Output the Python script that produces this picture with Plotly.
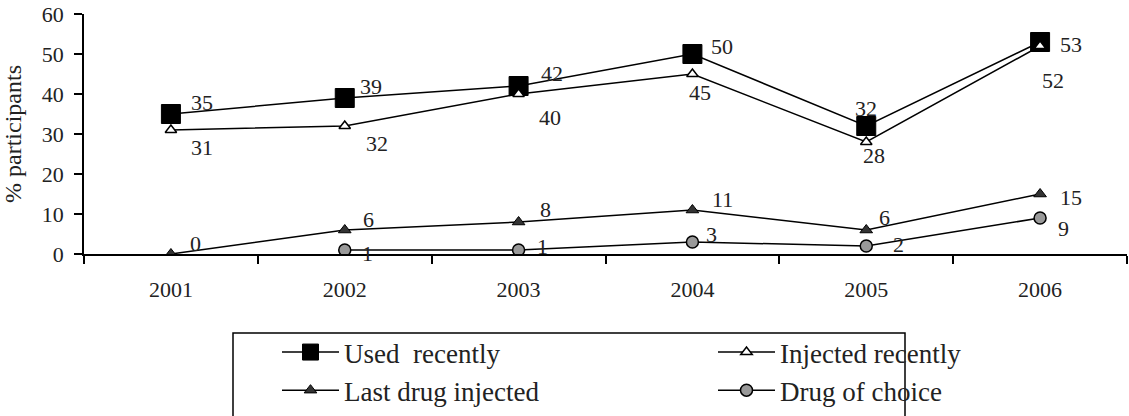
import plotly.graph_objects as go

# Survey years and percentages of participants
years = ["2001", "2002", "2003", "2004", "2005", "2006"]
used_recently = [35, 39, 42, 50, 32, 53]
injected_recently = [31, 32, 40, 45, 28, 52]
last_drug_injected = [0, 6, 8, 11, 6, 15]
drug_of_choice = [None, 1, 1, 3, 2, 9]
y_ticks = [0, 10, 20, 30, 40, 50, 60]

# Pixel offsets (right, down) for each value label
used_off = [(31, -12), (26, -12), (33, -13), (30, -8), (0, -18), (31, 2)]
inj_off = [(31, 17), (32, 17), (31, 23), (8, 18), (8, 13), (13, 34)]
last_off = [(25, -11), (24, -11), (27, -13), (30, -11), (18, -13), (31, 3)]
choice_off = [(0, 0), (23, 3), (24, -4), (19, -8), (32, -2), (23, 10)]

FONT = "Liberation Serif"
TXT = "#222222"
W, H = 1129, 416
ML, MR, MT, MB = 84, 2, 14, 162

series = [
    ("Used  recently", used_recently, used_off,
     dict(symbol="square", size=19, color="black", line=dict(color="black", width=1))),
    ("Injected recently", injected_recently, inj_off,
     dict(symbol="triangle-up", size=10, color="white", line=dict(color="black", width=1.5))),
    ("Last drug injected", last_drug_injected, last_off,
     dict(symbol="triangle-up", size=11, color="#333333", line=dict(color="black", width=1))),
    ("Drug of choice", drug_of_choice, choice_off,
     dict(symbol="circle", size=12, color="#999999", line=dict(color="black", width=1.5))),
]

fig = go.Figure()
for name, vals, offs, marker in series:
    fig.add_trace(go.Scatter(
        x=years, y=vals, name=name, mode="lines+markers",
        line=dict(color="black", width=1.5), marker=marker,
    ))
    # value labels placed at each point, nudged by a few pixels
    for i, (v, (dx, dy)) in enumerate(zip(vals, offs)):
        if v is None:
            continue
        fig.add_annotation(
            x=i, y=v, xref="x", yref="y", text=str(v), showarrow=False,
            xanchor="center", yanchor="middle",
            xshift=dx, yshift=-dy,
            font=dict(family=FONT, size=22, color=TXT),
        )

plot_w = W - ML - MR
plot_h = H - MT - MB


def px_x(p):
    return (p - ML) / plot_w


def px_y(p):
    return (H - MB - p) / plot_h


# Frame around the legend
fig.add_shape(
    type="rect", xref="paper", yref="paper",
    x0=px_x(233), x1=px_x(905), y0=px_y(333), y1=px_y(440),
    line=dict(color="black", width=1.5), fillcolor="rgba(0,0,0,0)",
)

fig.update_layout(
    width=W, height=H,
    margin=dict(l=ML, r=MR, t=MT, b=MB, autoexpand=False),
    paper_bgcolor="white", plot_bgcolor="white",
    font=dict(family=FONT, size=22, color=TXT),
    showlegend=True,
    legend=dict(
        orientation="h",
        x=px_x(277), xanchor="left",
        y=px_y(328), yanchor="top",
        entrywidth=364, entrywidthmode="pixels",
        itemwidth=57,
        font=dict(family=FONT, size=27, color=TXT),
        bgcolor="rgba(0,0,0,0)", borderwidth=0,
        traceorder="normal",
    ),
    xaxis=dict(
        type="category", range=[-0.5, 5.5],
        showline=True, linecolor="black", linewidth=1.5,
        ticks="outside", tickson="boundaries", ticklen=8, tickwidth=1.5, tickcolor="black",
        ticklabelstandoff=15,
        showgrid=False, zeroline=False, fixedrange=True,
        tickfont=dict(family=FONT, size=22, color=TXT),
    ),
    yaxis=dict(
        range=[0, 60], tickvals=y_ticks,
        showline=True, linecolor="black", linewidth=1.5,
        ticks="outside", ticklen=8, tickwidth=1.5, tickcolor="black",
        ticklabelstandoff=6,
        showgrid=False, zeroline=False, fixedrange=True,
        tickfont=dict(family=FONT, size=22, color=TXT),
        title=dict(text="% participants", standoff=16,
                   font=dict(family=FONT, size=24, color=TXT)),
    ),
)

fig.write_html("out.html")
